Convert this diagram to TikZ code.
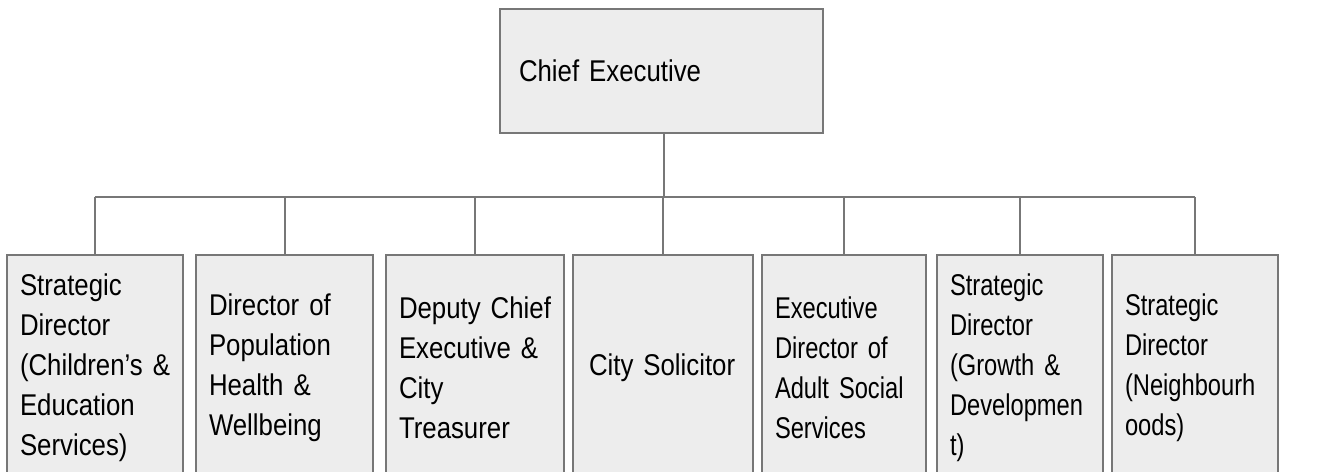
\documentclass[tikz,border=0pt]{standalone}
\usepackage{fontspec}
\setmainfont[FakeStretch=0.86]{Liberation Sans}
\newfontfamily\narrowfont[FakeStretch=0.79]{Liberation Sans}
\newcommand\mf{\fontsize{30}{40}\selectfont\fontdimen2\font=5.5pt\relax}
\newcommand\nf{\narrowfont\fontdimen2\font=5pt\relax}
\definecolor{boxfill}{HTML}{EDEDED}
\definecolor{boxline}{HTML}{777777}
\begin{document}
\begin{tikzpicture}[x=1pt,y=-1pt,
  orgbox/.style={draw=boxline,fill=boxfill,line width=2pt,inner sep=0pt,
    font=\mf,align=left},
  link/.style={draw=boxline,line width=2pt}]
\useasboundingbox (0,0) rectangle (1327,471);
\clip (0,0) rectangle (1327,471);
\node[orgbox,minimum width=323,minimum height=124,text width=285] (chief) at (661.5,71) {Chief~Executive};
\node[orgbox,minimum width=176,minimum height=225,text width=150] (b1) at (95,367.5) {Strategic\\Director\\(Children’s~\&\\Education\\Services)};
\node[orgbox,minimum width=177,minimum height=225,text width=151] (b2) at (284.5,367.5) {Director~of\\Population\\Health~\&\\Wellbeing};
\node[orgbox,minimum width=178,minimum height=225,text width=152] (b3) at (475,367.5) {Deputy~Chief\\Executive~\&\\City\\Treasurer};
\node[orgbox,minimum width=180,minimum height=225,text width=152] (b4) at (663,367.5) {\hspace*{2pt}City~Solicitor};
\node[orgbox,minimum width=164,minimum height=225,text width=138] (b5) at (844,367.5) {\nf Executive\\\nf Director~of\\\nf Adult~Social\\\nf Services};
\node[orgbox,minimum width=166,minimum height=225,text width=140] (b6) at (1020,367.5) {\nf Strategic\\\nf Director\\\nf (Growth~\&\\\nf Developmen\\\nf t)};
\node[orgbox,minimum width=166,minimum height=225,text width=140] (b7) at (1195,367.5) {\nf Strategic\\\nf Director\\\nf (Neighbourh\\\nf oods)};
\coordinate (bus) at (664,197);
\draw[link] (chief.south -| bus) -- (bus);
\draw[link] (b1.north |- bus) -- (b7.north |- bus);
\foreach \i in {1,...,7} {\draw[link] (b\i.north |- bus) -- (b\i.north);}
\end{tikzpicture}
\end{document}
